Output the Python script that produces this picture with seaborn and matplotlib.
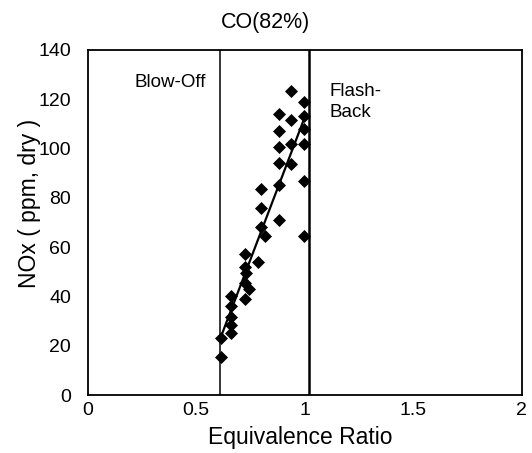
import matplotlib
matplotlib.use("Agg")
import matplotlib.pyplot as plt
import seaborn as sns
import pandas as pd

# ---- data ----
phi = [0.616, 0.616,
       0.662, 0.662, 0.662, 0.662, 0.662,
       0.724, 0.724, 0.730, 0.724, 0.724, 0.745,
       0.784,
       0.800, 0.800, 0.800, 0.815,
       0.880, 0.880, 0.880, 0.880, 0.880, 0.880,
       0.934, 0.934, 0.934, 0.934,
       0.995, 0.995, 0.995, 0.995, 0.995, 0.995]
nox = [23.0, 15.5,
       40.0, 36.0, 31.5, 28.5, 25.0,
       57.0, 52.0, 49.5, 45.5, 39.0, 43.0,
       54.0,
       83.5, 76.0, 68.0, 64.5,
       114.0, 107.0, 100.5, 94.0, 85.0, 71.0,
       123.5, 111.5, 102.0, 93.5,
       119.0, 113.0, 108.0, 102.0, 87.0, 64.5]

blow_off_phi = 0.61
flash_back_phi = 1.02
x_ticks = [0, 0.5, 1, 1.5, 2]
x_tick_labels = ["0", "0.5", "1", "1.5", "2"]
y_ticks = [0, 20, 40, 60, 80, 100, 120, 140]
title = "CO(82%)"
x_label = "Equivalence Ratio"
y_label = "NOx ( ppm, dry )"

df = pd.DataFrame({"phi": phi, "nox": nox})

sns.set_style("white")
plt.rcParams["font.family"] = ["Liberation Sans", "DejaVu Sans"]
plt.rcParams["text.color"] = "black"

fig = plt.figure(figsize=(5.32, 4.53), dpi=100)
ax = fig.add_axes([0.165, 0.128, 0.816, 0.762])

sns.regplot(data=df, x="phi", y="nox", ax=ax, ci=None, color="black",
            marker="D", scatter_kws=dict(s=44, linewidths=0, alpha=1),
            line_kws=dict(lw=1.6))

ax.axvline(blow_off_phi, color="black", lw=1.1)
ax.axvline(flash_back_phi, color="black", lw=1.8)

ax.set_xlim(0, 2)
ax.set_ylim(0, 140)
ax.set_xticks(x_ticks)
ax.set_xticklabels(x_tick_labels)
ax.set_yticks(y_ticks)
ax.tick_params(direction="in", length=5, width=1, labelsize=14,
               colors="black", labelcolor="black")
ax.tick_params(axis="y", pad=12)
ax.tick_params(axis="x", pad=5)

for s in ax.spines.values():
    s.set_color("black")
    s.set_linewidth(1.3)

ax.set_xlabel(x_label, fontsize=16.5, color="black")
ax.set_ylabel(y_label, fontsize=16.5, color="black")
ax.xaxis.label.set_va("center")
ax.yaxis.label.set_va("center")
ax.xaxis.set_label_coords(0.489, -0.122)
ax.yaxis.set_label_coords(-0.134, 0.554)
fig.suptitle(title, x=0.5, y=0.951, va="center", fontsize=15.5, color="black")

ax.text(0.38, 126.6, "Blow-Off", fontsize=13.5, ha="center", va="center")
ax.text(1.115, 119, "Flash-\nBack", fontsize=13.5, ha="left", va="center",
        linespacing=1.3)

fig.savefig("out.png", dpi=100)
